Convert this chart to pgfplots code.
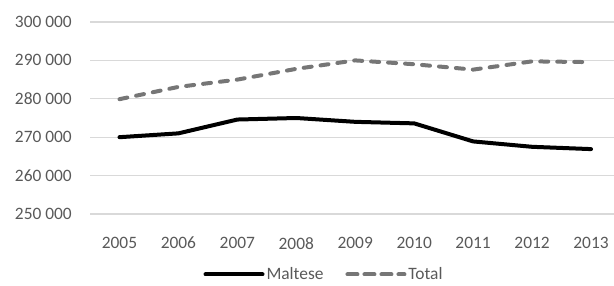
\documentclass[border=0pt]{standalone}
\usepackage{fontspec}
\setmainfont{Carlito}
\usepackage{pgfplots}
\pgfplotsset{compat=1.18}
\definecolor{tickc}{RGB}{89,89,89}
\definecolor{gridc}{RGB}{217,217,217}
\definecolor{totc}{RGB}{118,118,118}
\begin{document}
\begin{tikzpicture}
\begin{axis}[
  at={(90bp,72bp)}, anchor=south west,
  scale only axis, width=524bp, height=192bp,
  xmin=-0.5, xmax=8.39, ymin=250000, ymax=300000,
  clip=false,
  scaled y ticks=false,
  axis line style={draw=none},
  major tick style={draw=none},
  xtick={0,...,8},
  xticklabels={2005,2006,2007,2008,2009,2010,2011,2012,2013},
  ytick={250000,260000,270000,280000,290000,300000},
  yticklabels={250 000,260 000,270 000,280 000,290 000,300 000},
  ymajorgrids, grid style={gridc, line width=1.3bp},
  tick label style={font=\fontsize{17.4bp}{20bp}\selectfont, text=tickc, inner sep=0pt},
  y tick label style={anchor=east, xshift=-18bp},
  x tick label style={anchor=north, yshift=-23bp},
  legend columns=2,
  legend style={draw=none, fill=none, at={(axis description cs:0.4466,-0.315)}, anchor=center,
    font=\fontsize{17.4bp}{20bp}\selectfont, text=tickc,
    nodes={inner xsep=2bp, inner ysep=0pt},
    /tikz/every even column/.append style={column sep=20bp}},
]
\addplot[black, line width=4bp, line join=round, line cap=round,
  legend image code/.code={\draw[black, line width=4bp, line cap=round] (0bp,0bp) -- (57bp,0bp);}]
  coordinates {(0,270000) (1,271000) (2,274600) (3,275000) (4,274000) (5,273600) (6,268900) (7,267500) (8,266900)};
\addlegendentry{Maltese}
\addplot[totc, line width=4bp, line join=round, line cap=round, dash pattern=on 8bp off 9bp,
  legend image code/.code={\path (0bp,0bp) -- (57bp,0bp); \draw[totc, line width=4bp, line cap=round, dash pattern=on 8bp off 9bp] (2bp,0bp) -- (46bp,0bp);}]
  coordinates {(0,279900) (1,283100) (2,285000) (3,287800) (4,290000) (5,289000) (6,287600) (7,289750) (8,289550)};
\addlegendentry{Total}
\end{axis}
\pgfresetboundingbox
\path (0bp,0bp) rectangle (614bp,286bp);
\end{tikzpicture}
\end{document}
